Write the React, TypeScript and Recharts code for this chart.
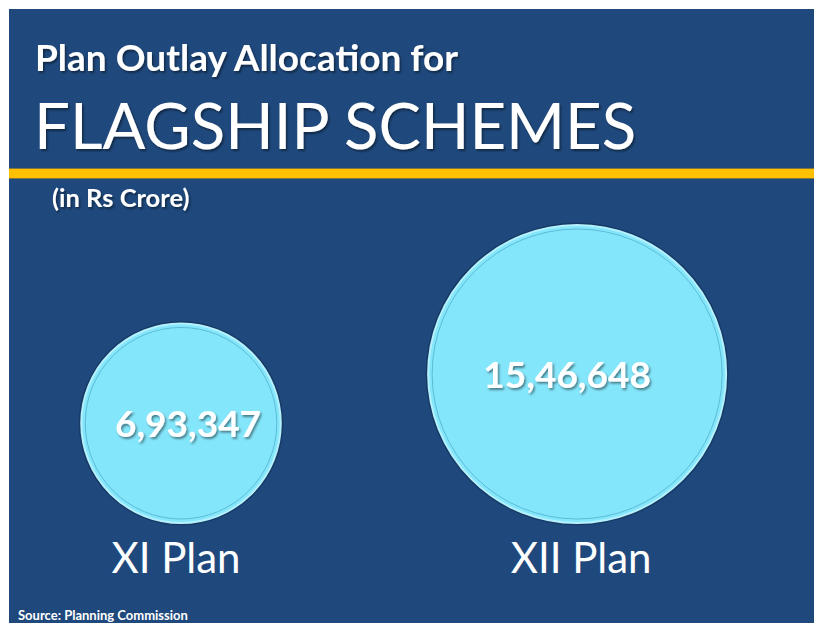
import { ScatterChart, Scatter, XAxis, YAxis, ZAxis } from "recharts"

const plans = ["XI Plan", "XII Plan"]
const outlays = [693347, 1546648]
const outlayLabels = ["6,93,347", "15,46,648"]

const data = plans.map((plan, i) => ({
  pos: i,
  base: 0,
  plan,
  outlay: outlays[i],
  label: outlayLabels[i],
}))

const BG = "#1F497D"
const FONT = "Lato, 'Open Sans', sans-serif"
const MAX_R = 149
// text boxes in the slide are not quite centred on the bubbles
const labelNudge = [7, -10]
const tickNudge = [-5, 4]

function Bubble(props: any) {
  const { cx, cy, payload } = props
  const size = props.size ?? Math.PI * Math.pow((props.width ?? 0) / 2, 2)
  const r = Math.sqrt(size / Math.PI)
  const c = cy - r
  const i = payload.pos
  return (
    <g>
      <circle cx={cx} cy={c} r={r + 1.5} fill="none" stroke="#173a66" strokeWidth={2} />
      <circle cx={cx} cy={c} r={r} fill="#84E6FB" stroke="#B5F1FD" strokeWidth={2} />
      <circle cx={cx} cy={c} r={r - 4} fill="none" stroke="#5DBCD6" strokeWidth={1} />
      <text
        x={cx + labelNudge[i]}
        y={c + 14}
        textAnchor="middle"
        fill="#ffffff"
        fontFamily={FONT}
        fontWeight={700}
        fontSize={37}
        filter="url(#shadow)"
      >
        {payload.label}
      </text>
    </g>
  )
}

function PlanTick(props: any) {
  const { x, y, payload } = props
  return (
    <text
      x={x + tickNudge[payload.value]}
      y={y + 42}
      textAnchor="middle"
      fill="#ffffff"
      fontFamily={FONT}
      fontSize={42}
    >
      {plans[payload.value]}
    </text>
  )
}

export default function App() {
  return (
    <div style={{ position: "absolute", left: 0, top: 0, width: 814, height: 623, background: "#fff", overflow: "hidden" }}>
      <div style={{ position: "absolute", left: 9, top: 9, width: 805, height: 614, background: BG }} />
      <div
        style={{
          position: "absolute",
          left: 9,
          top: 168,
          width: 805,
          height: 9,
          background: "#FFC000",
          borderTop: "1px solid #7d7440",
          borderBottom: "1px solid #7d7440",
        }}
      />
      <svg width={814} height={623} style={{ position: "absolute", left: 0, top: 0 }}>
        <defs>
          <filter id="tshadow" x="-10%" y="-20%" width="120%" height="160%">
            <feDropShadow dx={1.5} dy={2} stdDeviation={1.2} floodColor="#000" floodOpacity={0.45} />
          </filter>
        </defs>
        <text x={35} y={71} fill="#fff" fontFamily={FONT} fontWeight={700} fontSize={37} filter="url(#tshadow)">
          Plan Outlay Allocation for
        </text>
        <text x={34} y={149} fill="#fff" fontFamily={FONT} fontSize={63.5} filter="url(#tshadow)">
          FLAGSHIP SCHEMES
        </text>
        <text x={52} y={207} fill="#fff" fontFamily={FONT} fontWeight={700} fontSize={25.5} filter="url(#tshadow)">
          (in Rs Crore)
        </text>
        <text x={18} y={620} fill="#fff" fontFamily={FONT} fontWeight={700} fontSize={13}>
          Source: Planning Commission
        </text>
      </svg>
      <div style={{ position: "absolute", left: 0, top: 0 }}>
        <ScatterChart width={814} height={623} margin={{ top: 0, right: 0, bottom: 0, left: 0 }}>
          <defs>
            <filter id="shadow" x="-10%" y="-20%" width="120%" height="160%">
              <feDropShadow dx={1.5} dy={2} stdDeviation={1.2} floodColor="#000" floodOpacity={0.45} />
            </filter>
          </defs>
          <XAxis
            type="number"
            dataKey="pos"
            domain={[-0.457, 1.598]}
            ticks={[0, 1]}
            axisLine={false}
            tickLine={false}
            height={100}
            tick={<PlanTick />}
          />
          <YAxis type="number" dataKey="base" domain={[0, 1]} hide width={0} />
          <ZAxis type="number" dataKey="outlay" domain={[0, 1546648]} range={[0, Math.PI * MAX_R * MAX_R]} />
          <Scatter data={data} shape={<Bubble />} isAnimationActive={false} />
        </ScatterChart>
      </div>
    </div>
  )
}
